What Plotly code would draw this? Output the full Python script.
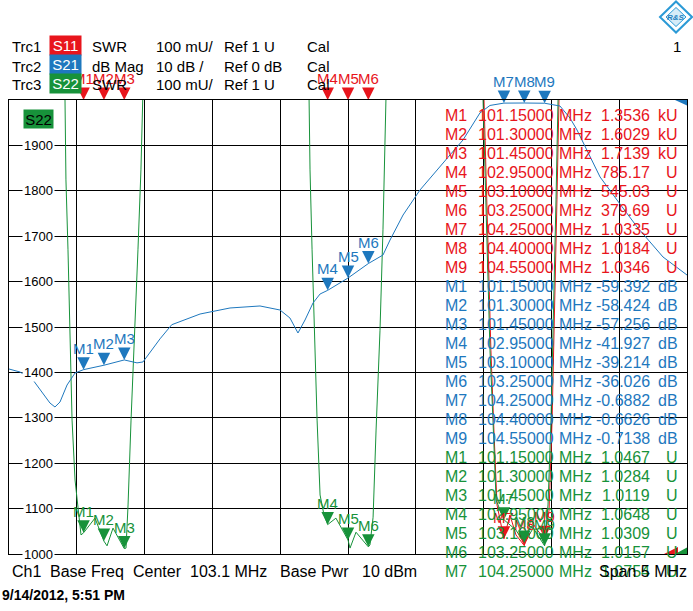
import plotly.graph_objects as go

# ---------------------------------------------------------------------
# Channel setup (Ch1: center 103.1 MHz, span 5 MHz)
# ---------------------------------------------------------------------
F_START, F_STOP = 100.6, 105.6
SWR_RANGE = [1.0, 2.0]      # Trc1 / Trc3: 100 mU/div, Ref 1 U
DB_RANGE = [-100.0, 0.0]    # Trc2: 10 dB/div, Ref 0 dB (top)
Y_TICK_VALUES = [1.0, 1.1, 1.2, 1.3, 1.4, 1.5, 1.6, 1.7, 1.8, 1.9]
Y_TICK_LABELS = ["1000", "1100", "1200", "1300", "1400", "1500", "1600", "1700", "1800", "1900"]

# Trc1 S11 SWR (off the top of the screen except around the 104.4 MHz dip)
S11_F = [100.60, 104.09, 104.103, 104.132, 104.154, 104.176, 104.199, 104.25, 104.294,
         104.339, 104.40, 104.448, 104.494, 104.55, 104.583, 104.605, 104.627, 104.641,
         104.656, 104.67, 105.60]
S11_SWR = [40.0, 2.3, 2.0, 1.670, 1.449, 1.273, 1.108, 1.0335, 1.086,
           1.042, 1.0184, 1.075, 1.053, 1.0346, 1.097, 1.295, 1.559, 1.780,
           2.0, 2.3, 40.0]

# Trc2 S21 dB Mag
S21_F = [100.600, 100.681, 100.777, 100.851, 100.902, 100.939, 100.976, 101.028, 101.087,
         101.15, 101.30, 101.45, 101.544, 101.588, 101.640, 101.714, 101.80, 102.009,
         102.230, 102.451, 102.599, 102.672, 102.731, 102.783, 102.842, 102.894, 102.95,
         103.10, 103.25, 103.358, 103.410, 103.506, 103.631, 103.742, 103.852, 103.948,
         104.073, 104.147, 104.25, 104.40, 104.55, 104.663, 104.737, 104.789, 104.863,
         104.959, 105.084, 105.232, 105.423, 105.600]
S21_DB = [-59.25, -59.91, -61.67, -64.54, -66.74, -67.62, -66.52, -62.78, -60.13,
          -59.392, -58.424, -57.256, -57.9, -57.7, -55.5, -52.6, -49.5, -47.14,
          -45.81, -45.37, -46.26, -48.02, -51.32, -48.46, -44.71, -42.73, -41.927,
          -39.214, -36.026, -34.14, -30.84, -25.33, -19.82, -15.86, -12.11, -8.81,
          -2.86, -1.2, -0.6882, -0.6626, -0.7138, -1.32, -3.96, -6.61, -11.01,
          -16.96, -22.03, -27.97, -34.58, -38.55]

# Trc3 S22 SWR
S22_F = [100.60, 100.998,
         101.013, 101.020, 101.035, 101.050, 101.065, 101.087, 101.109, 101.131, 101.15,
         101.234, 101.30, 101.323, 101.367, 101.45, 101.463, 101.478, 101.50, 101.529,
         101.551, 101.573, 101.588, 101.603,
         102.20,
         102.798, 102.813, 102.820, 102.835, 102.850, 102.872, 102.894, 102.923, 102.95,
         103.011, 103.10, 103.115, 103.159, 103.25, 103.262, 103.285, 103.307, 103.336,
         103.358, 103.380, 103.395,
         103.75,
         104.081, 104.096, 104.125, 104.147, 104.169, 104.192, 104.25, 104.338, 104.40,
         104.466, 104.55, 104.575, 104.597, 104.619, 104.634, 104.649, 104.663,
         105.60]
S22_SWR = [30.0, 2.2,
           2.0, 1.824, 1.670, 1.476, 1.295, 1.163, 1.097, 1.042, 1.0467,
           1.079, 1.0284, 1.018, 1.057, 1.0119, 1.013, 1.108, 1.295, 1.493,
           1.670, 1.846, 2.0, 2.2,
           30.0,
           2.2, 2.0, 1.846, 1.670, 1.493, 1.295, 1.130, 1.086, 1.0648,
           1.079, 1.0309, 1.013, 1.048, 1.0157, 1.020, 1.081, 1.273, 1.493,
           1.714, 2.0, 2.2,
           30.0,
           2.2, 2.0, 1.670, 1.449, 1.295, 1.119, 1.0754, 1.053, 1.024,
           1.057, 1.018, 1.108, 1.295, 1.559, 1.780, 2.0, 2.2,
           30.0]

# markers M1..M9 (same stimulus on every trace)
MARKER_FREQ = [101.15, 101.30, 101.45, 102.95, 103.10, 103.25, 104.25, 104.40, 104.55]
S11_MARKER = [1353.6, 1602.9, 1713.9, 785.17, 545.03, 379.69, 1.0335, 1.0184, 1.0346]
S21_MARKER = [-59.392, -58.424, -57.256, -41.927, -39.214, -36.026, -0.6882, -0.6626, -0.7138]
S22_MARKER = [1.0467, 1.0284, 1.0119, 1.0648, 1.0309, 1.0157, 1.0754, 1.024, 1.018]
S22_ROWS_SHOWN = 7  # the info table runs off the bottom after M7

RED = "#e8151c"
BLUE = "#1e78be"
GREEN = "#17923a"
FONT = "Liberation Sans, Arial, sans-serif"

# plot area in screen pixels (used only to place the texts around it)
PLOT_L, PLOT_T, PLOT_W, PLOT_H = 9, 100, 678, 454


def px(x):
    return (x - PLOT_L) / PLOT_W


def py(y):
    return (PLOT_T + PLOT_H - y) / PLOT_H


def fmt_swr(v):
    if v >= 1000:
        return f"{v / 1000:.5g}", "kU"
    return f"{v:.5g}", "U"


fig = go.Figure()


def text(x, y, s, color="black", size=15, anchor="left", **kw):
    fig.add_annotation(x=px(x), y=py(y), xref="paper", yref="paper", text=s,
                       showarrow=False, xanchor=anchor, yanchor="middle",
                       font=dict(family=FONT, size=size, color=color), **kw)


# traces
fig.add_trace(go.Scatter(x=S11_F, y=S11_SWR, mode="lines", line=dict(color=RED, width=1),
                         hoverinfo="skip"))
fig.add_trace(go.Scatter(x=S21_F, y=S21_DB, yaxis="y2", mode="lines",
                         line=dict(color=BLUE, width=1), hoverinfo="skip"))
fig.add_trace(go.Scatter(x=S22_F, y=S22_SWR, mode="lines", line=dict(color=GREEN, width=1),
                         hoverinfo="skip"))

# markers: tip on the value, clamped to the top edge when off screen
marker_sets = [
    (RED, "y", [min(v, SWR_RANGE[1]) for v in S11_MARKER]),
    (BLUE, "y2", [min(v, DB_RANGE[1]) for v in S21_MARKER]),
    (GREEN, "y", [min(v, SWR_RANGE[1]) for v in S22_MARKER]),
]
for color, yax, ys in marker_sets:
    fig.add_trace(go.Scatter(x=MARKER_FREQ, y=ys, yaxis=yax, mode="markers", cliponaxis=False,
                             marker=dict(symbol="arrow-down", size=12.5, color=color,
                                         line=dict(width=0)),
                             hoverinfo="skip"))
    for i, (f, v) in enumerate(zip(MARKER_FREQ, ys)):
        fig.add_annotation(x=f, y=v, xref="x", yref=yax, text=f"M{i + 1}", showarrow=False,
                           xanchor="center", yanchor="bottom", yshift=11,
                           font=dict(family=FONT, size=15, color=color))

# reference position arrows on the right edge
for color, yax, yval, path in [
    (RED, "y", SWR_RANGE[0], "M-23,0 L-9,0 L-9,7 Z"),
    (GREEN, "y", SWR_RANGE[0], "M-12,0 L3,0 L3,8 Z"),
    (BLUE, "y2", DB_RANGE[1], "M-12,0 L3,0 L3,-7 Z"),
]:
    fig.add_shape(type="path", xref="x", yref=yax, xsizemode="pixel", ysizemode="pixel",
                  xanchor=F_STOP, yanchor=yval, path=path, fillcolor=color, line=dict(width=0))

# y labels sitting on the grid lines
for v, lab in zip(Y_TICK_VALUES, Y_TICK_LABELS):
    fig.add_annotation(x=px(38.5), y=v, xref="paper", yref="y", text=lab, showarrow=False,
                       xanchor="center", yanchor="middle", bgcolor="white", borderpad=1,
                       font=dict(family=FONT, size=13, color="black"))

# trace list header
header = [
    ("Trc1", "S11", RED, "SWR", "100 mU/", "Ref 1 U", 46.5, 45.5),
    ("Trc2", "S21", BLUE, "dB Mag", "10 dB /", "Ref 0 dB", 66.5, 64.5),
    ("Trc3", "S22", GREEN, "SWR", "100 mU/", "Ref 1 U", 84.5, 83.5),
]
for trc, sp, color, fmt, scale, ref, yy, ybox in header:
    text(10, yy, trc)
    text(65.5, ybox, sp, color="white", anchor="center", bgcolor=color, width=29, height=17,
         borderpad=1)
    text(90, yy, fmt)
    text(154, yy, scale)
    text(222, yy, ref)
    text(305, yy, "Cal")
text(38.5, 118.5, "S22", anchor="center", bgcolor=GREEN, width=27, height=16, borderpad=1)
text(683, 46.5, "1", anchor="right")

# marker info table
rows = []
for i, (f, v) in enumerate(zip(MARKER_FREQ, S11_MARKER)):
    rows.append((RED, i, f, *fmt_swr(v)))
for i, (f, v) in enumerate(zip(MARKER_FREQ, S21_MARKER)):
    rows.append((BLUE, i, f, f"{v:.5g}", "dB"))
for i, (f, v) in enumerate(list(zip(MARKER_FREQ, S22_MARKER))[:S22_ROWS_SHOWN]):
    rows.append((GREEN, i, f, *fmt_swr(v)))
for r, (color, i, f, val, unit) in enumerate(rows):
    yy = 115.5 + 19.0 * r
    text(443, yy, f"M{i + 1}", color=color, size=16)
    text(476, yy, f"{f:.5f}", color=color, size=16)
    text(557, yy, "MHz", color=color, size=16)
    text(652, yy, val, color=color, size=16, anchor="right")
    text(680, yy, unit, color=color, size=16, anchor="right")

# channel status line and time stamp
for x, s in [(10, "Ch1"), (48, "Base Freq"), (131, "Center"), (188, "103.1 MHz"),
             (278, "Base Pwr"), (360, "10 dBm"), (597, "Span 5 MHz")]:
    text(x, 571.5, s, size=16)
text(0, 595, "<b>9/14/2012, 5:51 PM</b>", size=14)

# R&S logo
fig.add_shape(type="path", xref="paper", yref="paper", xsizemode="pixel", ysizemode="pixel",
              xanchor=px(676), yanchor=py(17), path="M-16,0 L0,15.5 L16,0 L0,-15.5 Z",
              fillcolor="white", line=dict(color="#2b9ad6", width=2))
fig.add_shape(type="path", xref="paper", yref="paper", xsizemode="pixel", ysizemode="pixel",
              xanchor=px(676), yanchor=py(17), path="M-10,0 L0,9.5 L10,0 L0,-9.5 Z",
              fillcolor="#d6ecf8", line=dict(color="#2b9ad6", width=1))
text(676, 17, "<i><b>R&S</b></i>", color="#1b7fc0", size=8, anchor="center")

fig.update_layout(
    width=693, height=611,
    margin=dict(l=PLOT_L, r=693 - PLOT_L - PLOT_W, t=PLOT_T, b=611 - PLOT_T - PLOT_H, pad=0),
    paper_bgcolor="white", plot_bgcolor="white",
    showlegend=False,
    font=dict(family=FONT, size=15, color="black"),
    xaxis=dict(range=[F_START, F_STOP], tick0=F_START, dtick=(F_STOP - F_START) / 10,
               showgrid=True, gridcolor="black", gridwidth=1, zeroline=False,
               showline=True, mirror=True, linecolor="black", linewidth=1,
               showticklabels=False, ticks="", fixedrange=True),
    yaxis=dict(range=SWR_RANGE, tick0=SWR_RANGE[0], dtick=0.1,
               showgrid=True, gridcolor="black", gridwidth=1, zeroline=False,
               showline=True, mirror=True, linecolor="black", linewidth=1,
               showticklabels=False, ticks="", fixedrange=True),
    yaxis2=dict(range=DB_RANGE, overlaying="y", visible=False, fixedrange=True),
)

# the page body has a default 8px margin; drop it so the figure sits at the window origin
fig.write_html("out.html", config={"displayModeBar": False},
               post_script="document.body.style.margin='0';")
